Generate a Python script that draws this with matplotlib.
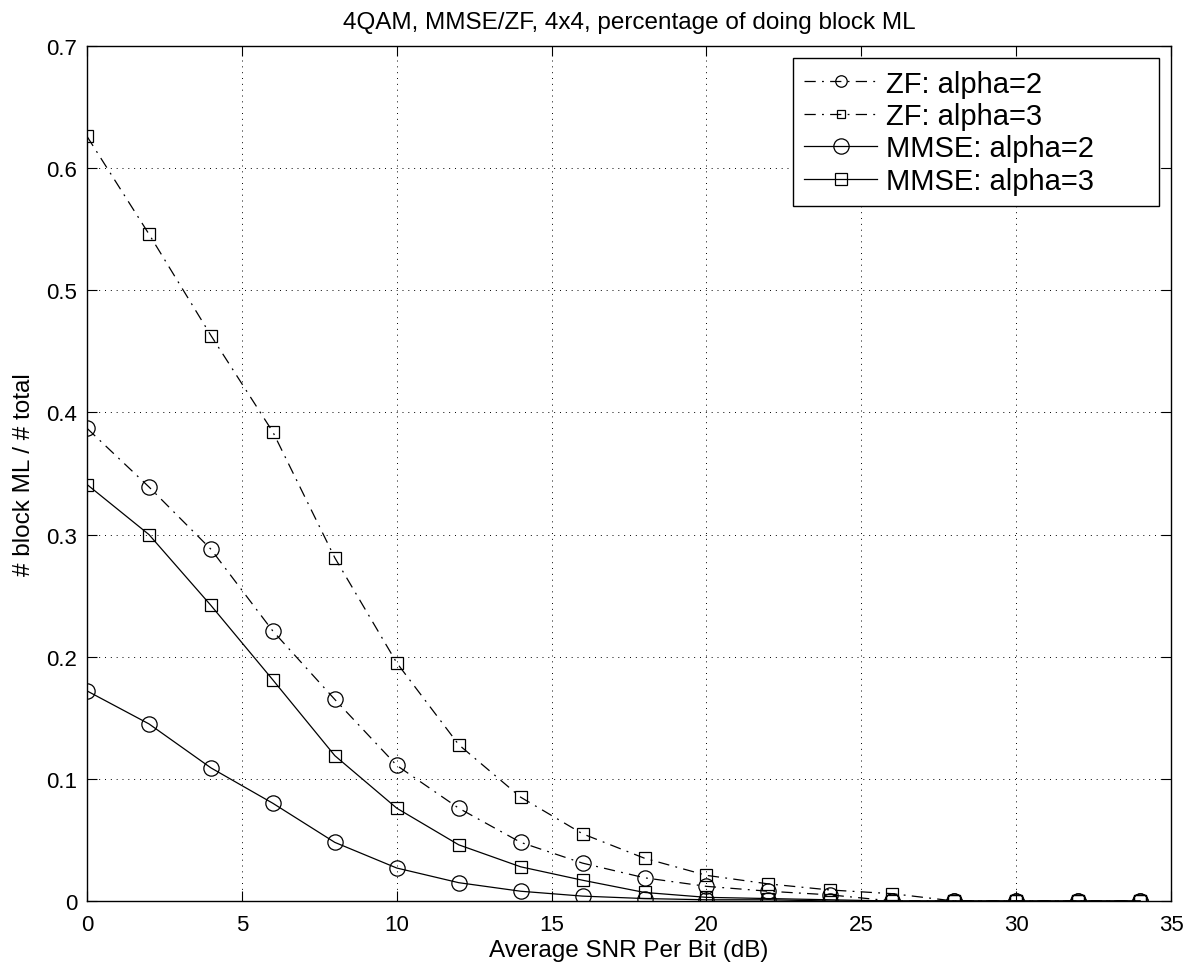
import numpy as np
import matplotlib
matplotlib.use("Agg")
import matplotlib.pyplot as plt

plt.rcParams['font.family'] = ['Liberation Sans', 'DejaVu Sans']

# SNR points (dB)
snr = [0, 2, 4, 6, 8, 10, 12, 14, 16, 18, 20, 22, 24, 26, 28, 30, 32, 34]

# fraction of block ML
zf_a2 = [0.387, 0.339, 0.288, 0.221, 0.165, 0.111, 0.076, 0.048, 0.031, 0.019,
         0.012, 0.008, 0.005, 0.0, 0.0, 0.0, 0.0, 0.0]
zf_a3 = [0.626, 0.546, 0.463, 0.384, 0.281, 0.195, 0.128, 0.085, 0.055, 0.035,
         0.021, 0.014, 0.009, 0.006, 0.0, 0.0, 0.0, 0.0]
mmse_a2 = [0.172, 0.145, 0.109, 0.080, 0.048, 0.027, 0.015, 0.008, 0.004, 0.002,
           0.001, 0.001, 0.0, 0.0, 0.0, 0.0, 0.0, 0.0]
mmse_a3 = [0.341, 0.300, 0.242, 0.181, 0.119, 0.076, 0.046, 0.028, 0.017, 0.007,
           0.003, 0.002, 0.001, 0.0, 0.0, 0.0, 0.0, 0.0]

labels = ['ZF: alpha=2', 'ZF: alpha=3', 'MMSE: alpha=2', 'MMSE: alpha=3']

fig = plt.figure(figsize=(11.99, 9.70), dpi=100)
ax = fig.add_axes([0.0726, 0.0701, 0.9041, 0.8814])

dashdot = (0, (9, 5, 1.5, 5))
lw = 0.9
ax.plot(snr, zf_a2, color='k', lw=lw, linestyle=dashdot, marker='o', ms=11,
        mfc='none', mec='k', mew=lw, label=labels[0])
ax.plot(snr, zf_a3, color='k', lw=lw, linestyle=dashdot, marker='s', ms=8.5,
        mfc='none', mec='k', mew=lw, label=labels[1])
ax.plot(snr, mmse_a2, color='k', lw=lw, linestyle='-', marker='o', ms=11,
        mfc='none', mec='k', mew=lw, label=labels[2])
ax.plot(snr, mmse_a3, color='k', lw=lw, linestyle='-', marker='s', ms=8.5,
        mfc='none', mec='k', mew=lw, label=labels[3])

ax.set_xlim(0, 35)
ax.set_ylim(0, 0.7)
ax.set_xticks(np.arange(0, 36, 5))
ax.set_yticks(np.arange(0, 0.71, 0.1))
ax.set_yticklabels(['0', '0.1', '0.2', '0.3', '0.4', '0.5', '0.6', '0.7'])
ax.grid(True, color='k', linestyle=(0, (1, 5)), linewidth=0.7)
ax.tick_params(direction='in', top=True, right=True, labelsize=16, length=7,
               width=0.8)
ax.tick_params(axis='x', pad=9)
ax.tick_params(axis='y', pad=7)
for s in ax.spines.values():
    s.set_linewidth(1.0)

ax.set_xlabel('Average SNR Per Bit (dB)', fontsize=17.5, labelpad=3)
ax.set_ylabel('# block ML / # total', fontsize=17.5, labelpad=8)
ax.set_title('4QAM, MMSE/ZF, 4x4, percentage of doing block ML', fontsize=17.5, pad=13)

# legend box spans a fixed region in the upper right (axes fraction)
leg = ax.legend(loc='upper left', bbox_to_anchor=(0.651, 0.986, 0.338, 0.0),
                mode='expand', borderaxespad=0, fontsize=21, fancybox=False,
                framealpha=1, edgecolor='k', handlelength=2.5, borderpad=0.4,
                labelspacing=0.15, handletextpad=0.3)
leg.get_frame().set_linewidth(1.0)
# ZF markers appear smaller in the legend
for h in leg.legend_handles[:2]:
    h.set_markersize(h.get_markersize() * 0.75)

fig.savefig('out.png', dpi=100)
